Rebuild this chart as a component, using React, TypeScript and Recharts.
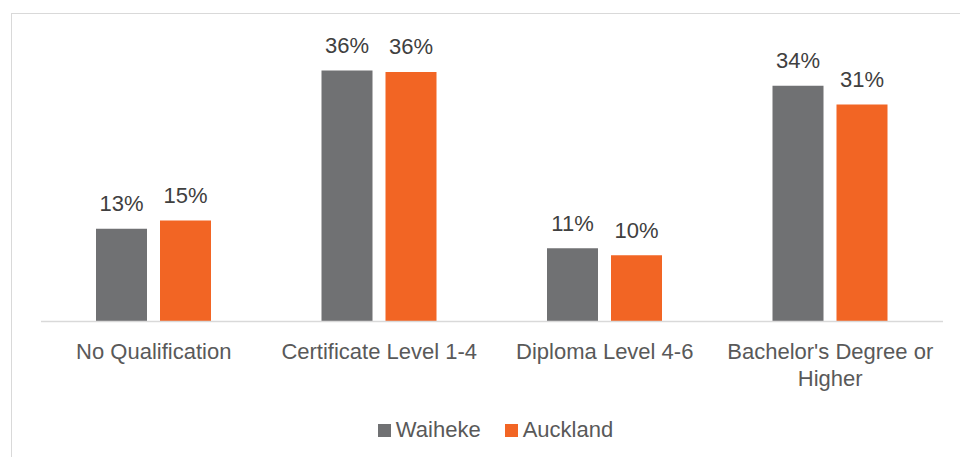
import React from "react";
import { BarChart, Bar, XAxis, YAxis, Legend, LabelList } from "recharts";

const categories = [
  "No Qualification",
  "Certificate Level 1-4",
  "Diploma Level 4-6",
  "Bachelor's Degree or Higher",
];
const waiheke = [13.4, 36.3, 10.6, 34.1];
const auckland = [14.6, 36.1, 9.6, 31.4];
const seriesNames = ["Waiheke", "Auckland"];

const data = categories.map((c, i) => ({
  name: c,
  Waiheke: waiheke[i],
  Auckland: auckland[i],
}));

const FONT = "'Liberation Sans', Arial, sans-serif";
const GRAY = "#707173";
const ORANGE = "#f26524";
const seriesColors = [GRAY, ORANGE];

let measureCtx: CanvasRenderingContext2D | null = null;
function measure(text: string): number {
  if (!measureCtx) {
    const c = document.createElement("canvas");
    measureCtx = c.getContext("2d");
  }
  if (!measureCtx) return text.length * 11;
  measureCtx.font = `22px ${FONT}`;
  return measureCtx.measureText(text).width;
}

function wrap(text: string, maxWidth: number): string[] {
  const words = text.split(" ");
  const lines: string[] = [];
  let cur = "";
  for (const w of words) {
    const cand = cur ? cur + " " + w : w;
    if (cur && measure(cand) > maxWidth) {
      lines.push(cur);
      cur = w;
    } else {
      cur = cand;
    }
  }
  if (cur) lines.push(cur);
  return lines;
}

const AxisTick = (props: any) => {
  const { x, y, payload } = props;
  const lines = wrap(String(payload.value), 215);
  return (
    <text
      x={x}
      y={y}
      textAnchor="middle"
      fill="#595959"
      fontSize={22}
      fontFamily={FONT}
    >
      {lines.map((l, i) => (
        <tspan key={i} x={x} dy={i === 0 ? 15.6 : 27}>
          {l}
        </tspan>
      ))}
    </text>
  );
};

const LegendContent = () => {
  return (
    <div
      style={{
        display: "flex",
        justifyContent: "center",
        alignItems: "center",
        height: 30,
        paddingLeft: 7,
        fontFamily: FONT,
        fontSize: 22,
        color: "#595959",
      }}
    >
      {seriesNames.map((name, i) => (
        <div
          key={name}
          style={{
            display: "flex",
            alignItems: "center",
            marginLeft: i === 0 ? 0 : 24,
            lineHeight: "30px",
          }}
        >
          <span
            style={{
              display: "inline-block",
              width: 13,
              height: 13,
              background: seriesColors[i],
              marginRight: 5,
            }}
          />
          <span>{name}</span>
        </div>
      ))}
    </div>
  );
};

export default function App() {
  return (
    <div
      style={{
        position: "absolute",
        left: 0,
        top: 0,
        width: 960,
        height: 457,
        background: "#ffffff",
        overflow: "hidden",
      }}
    >
      <div
        style={{
          position: "absolute",
          left: 11,
          top: 13,
          width: 960,
          height: 460,
          border: "1.5px solid #d9d9d9",
          boxSizing: "border-box",
        }}
      />
      <div style={{ position: "absolute", left: 0, top: 0 }}>
        <BarChart
          width={960}
          height={457}
          data={data}
          margin={{ top: 45, right: 17, left: 41, bottom: 12 }}
          barSize={51}
          barGap={13}
        >
          <XAxis
            dataKey="name"
            axisLine={{ stroke: "#d9d9d9", strokeWidth: 1.5 }}
            tickLine={false}
            tickSize={0}
            tickMargin={22}
            height={93.5}
            interval={0}
            tick={<AxisTick />}
          />
          <YAxis hide domain={[0, 40]} />
          <Legend
            verticalAlign="bottom"
            align="center"
            wrapperStyle={{ height: 30 }}
            content={<LegendContent />}
          />
          <Bar dataKey={seriesNames[0]} name={seriesNames[0]} fill={GRAY} isAnimationActive={false}>
            <LabelList
              dataKey={seriesNames[0]}
              position="top"
              offset={17.5}
              formatter={(v: any) => `${Math.round(Number(v))}%`}
              fill="#404040"
              fontSize={22}
              fontFamily={FONT}
            />
          </Bar>
          <Bar dataKey={seriesNames[1]} name={seriesNames[1]} fill={ORANGE} isAnimationActive={false}>
            <LabelList
              dataKey={seriesNames[1]}
              position="top"
              offset={17.5}
              formatter={(v: any) => `${Math.round(Number(v))}%`}
              fill="#404040"
              fontSize={22}
              fontFamily={FONT}
            />
          </Bar>
        </BarChart>
      </div>
    </div>
  );
}
